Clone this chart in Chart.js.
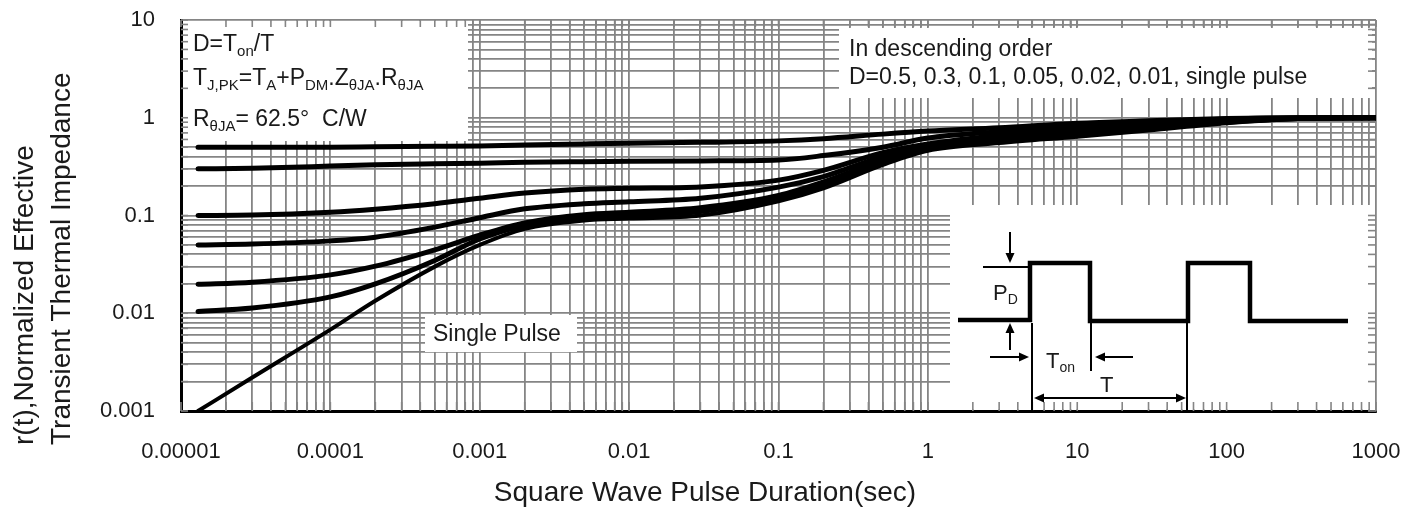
<!DOCTYPE html>
<html>
<head>
<meta charset="utf-8">
<script src="https://cdn.jsdelivr.net/npm/chart.js@4.4.1/dist/chart.umd.min.js"></script>
<style>
  html, body { margin: 0; padding: 0; background: #fff; }
  #wrap { width: 1423px; height: 514px; position: relative; }
</style>
</head>
<body>
<div id="wrap"><canvas id="graph1"></canvas></div>
<script>
// pulse duration (sec) where the curves were read
var durations = [1.3e-5, 3e-5, 1e-4, 2e-4, 5e-4, 1e-3, 2e-3, 5e-3, 1e-2, 3e-2, 0.1, 0.2, 0.5, 1, 3, 10, 30, 100, 300, 1000];

var dutyLabels = ['D=0.5', 'D=0.3', 'D=0.1', 'D=0.05', 'D=0.02', 'D=0.01', 'Single Pulse'];

var zD05 = [0.5, 0.5, 0.5, 0.505, 0.51, 0.515, 0.525, 0.54, 0.55, 0.56, 0.58, 0.61, 0.68, 0.73, 0.79, 0.88, 0.93, 0.98, 1.0, 1.0];
var zD03 = [0.3, 0.305, 0.32, 0.33, 0.338, 0.343, 0.35, 0.355, 0.358, 0.362, 0.37, 0.41, 0.5, 0.62, 0.72, 0.83, 0.9, 0.97, 1.0, 1.0];
var zD01 = [0.1, 0.101, 0.108, 0.116, 0.132, 0.15, 0.17, 0.186, 0.19, 0.196, 0.23, 0.29, 0.44, 0.54, 0.66, 0.76, 0.86, 0.95, 0.99, 1.0];
var zD005 = [0.05, 0.051, 0.055, 0.06, 0.076, 0.095, 0.117, 0.132, 0.138, 0.15, 0.195, 0.25, 0.4, 0.5, 0.62, 0.72, 0.82, 0.93, 0.99, 1.0];
var zD002 = [0.0198, 0.0208, 0.0247, 0.0303, 0.0446, 0.063, 0.084, 0.102, 0.108, 0.12, 0.16, 0.22, 0.37, 0.52, 0.59, 0.69, 0.79, 0.91, 0.98, 1.0];
var zD001 = [0.0104, 0.0113, 0.0147, 0.02, 0.0347, 0.0575, 0.079, 0.095, 0.1, 0.11, 0.15, 0.205, 0.35, 0.49, 0.57, 0.66, 0.77, 0.9, 0.98, 1.0];
var zSingle = [0.001, 0.0022, 0.0068, 0.0134, 0.03, 0.05, 0.073, 0.089, 0.093, 0.1, 0.14, 0.19, 0.33, 0.46, 0.55, 0.64, 0.74, 0.88, 0.97, 1.0];

var xTickLabels = ['0.00001', '0.0001', '0.001', '0.01', '0.1', '1', '10', '100', '1000'];
var yTickLabels = ['0.001', '0.01', '0.1', '1', '10'];

var xTitle = 'Square Wave Pulse Duration(sec)';
var yTitle = ['r(t),Normalized Effective', 'Transient Thermal Impedance'];

var FONT = '"Liberation Sans", Arial, sans-serif';
var GRID = '#858585';

var xMinExp = Math.round(Math.log10(parseFloat(xTickLabels[0])));
var xMaxExp = Math.round(Math.log10(parseFloat(xTickLabels[xTickLabels.length - 1])));
var yMinExp = Math.round(Math.log10(parseFloat(yTickLabels[0])));
var yMaxExp = Math.round(Math.log10(parseFloat(yTickLabels[yTickLabels.length - 1])));

function logTicks(minExp, maxExp) {
  var t = [];
  for (var e = minExp; e < maxExp; e++) {
    for (var m = 1; m < 10; m++) {
      t.push({ value: Number((m * Math.pow(10, e)).toPrecision(6)) });
    }
  }
  t.push({ value: Math.pow(10, maxExp) });
  return t;
}

function decadeLabel(labels, minExp) {
  return function (value) {
    var e = Math.log10(value);
    var r = Math.round(e);
    if (Math.abs(e - r) < 1e-6) return labels[r - minExp];
    return '';
  };
}

var series = [zD05, zD03, zD01, zD005, zD002, zD001, zSingle];
var datasets = series.map(function (vals, k) {
  return {
    label: dutyLabels[k],
    data: vals.map(function (v, i) { return { x: durations[i], y: v }; }),
    borderColor: '#000',
    borderWidth: k == 6 ? 4 : 5,
    borderCapStyle: 'round',
    pointRadius: 0,
    fill: false,
    cubicInterpolationMode: 'monotone'
  };
});

function richText(ctx, x, y, parts, size, subSize) {
  ctx.textAlign = 'left';
  ctx.textBaseline = 'middle';
  for (var i = 0; i < parts.length; i++) {
    var sub = parts[i][1];
    ctx.font = (sub ? subSize : size) + 'px ' + FONT;
    ctx.fillText(parts[i][0], x, sub ? y + size * 0.28 : y);
    x += ctx.measureText(parts[i][0]).width;
  }
}

function arrow(ctx, x1, y1, x2, y2) {
  var a = Math.atan2(y2 - y1, x2 - x1), h = 10, w = 4.5;
  ctx.beginPath();
  ctx.moveTo(x1, y1);
  ctx.lineTo(x2 - Math.cos(a) * h, y2 - Math.sin(a) * h);
  ctx.stroke();
  ctx.beginPath();
  ctx.moveTo(x2, y2);
  ctx.lineTo(x2 - Math.cos(a) * h - Math.sin(a) * w, y2 - Math.sin(a) * h + Math.cos(a) * w);
  ctx.lineTo(x2 - Math.cos(a) * h + Math.sin(a) * w, y2 - Math.sin(a) * h - Math.cos(a) * w);
  ctx.closePath();
  ctx.fill();
}

function line(ctx, x1, y1, x2, y2) {
  ctx.beginPath();
  ctx.moveTo(x1, y1);
  ctx.lineTo(x2, y2);
  ctx.stroke();
}

var decor = {
  id: 'decor',
  beforeDatasetsDraw: function (chart) {
    var ctx = chart.ctx, a = chart.chartArea;
    var sx = chart.scales.x, sy = chart.scales.y;
    ctx.save();
    ctx.fillStyle = '#fff';
    ctx.fillRect(a.left + 2, a.top + 1, 468 - a.left - 2, 141 - a.top - 1);
    ctx.fillRect(839, 28, 1372 - 839, 98 - 28);
    ctx.fillRect(425, 315, 577 - 425, 352 - 315);
    ctx.fillRect(950, 205, a.right - 1 - 950, a.bottom - 1.5 - 205);
    // short inward ticks on the frame
    ctx.strokeStyle = GRID;
    ctx.lineWidth = 1.6;
    sx.ticks.forEach(function (t) {
      var px = sx.getPixelForValue(t.value);
      line(ctx, px, a.bottom, px, a.bottom - 9);
      line(ctx, px, a.top, px, a.top + 7);
    });
    sy.ticks.forEach(function (t) {
      var py = sy.getPixelForValue(t.value);
      line(ctx, a.left, py, a.left + 7, py);
      line(ctx, a.right, py, a.right - 8, py);
    });
    ctx.restore();
  },
  afterDraw: function (chart) {
    var ctx = chart.ctx;
    ctx.save();
    ctx.fillStyle = '#1a1a1a';

    // formula box
    richText(ctx, 193, 45, [['D=T', 0], ['on', 1], ['/T', 0]], 23, 15);
    richText(ctx, 193, 79, [['T', 0], ['J,PK', 1], ['=T', 0], ['A', 1], ['+P', 0], ['DM', 1], ['.Z', 0], ['\u03b8JA', 1], ['.R', 0], ['\u03b8JA', 1]], 23, 15);
    richText(ctx, 193, 120, [['R', 0], ['\u03b8JA', 1], ['= 62.5\u00b0  C/W', 0]], 23, 15);

    // order note
    richText(ctx, 849, 50, [['In descending order', 0]], 23, 15);
    richText(ctx, 849, 78, [['D=0.5, 0.3, 0.1, 0.05, 0.02, 0.01, single pulse', 0]], 23, 15);

    richText(ctx, 433, 335, [['Single Pulse', 0]], 23, 15);

    // duty cycle sketch
    ctx.strokeStyle = '#000';
    ctx.fillStyle = '#000';
    ctx.lineWidth = 4.5;
    ctx.lineJoin = 'miter';
    ctx.beginPath();
    ctx.moveTo(958, 320);
    ctx.lineTo(1030, 320);
    ctx.lineTo(1030, 263);
    ctx.lineTo(1090, 263);
    ctx.lineTo(1090, 321);
    ctx.lineTo(1188, 321);
    ctx.lineTo(1188, 263);
    ctx.lineTo(1250, 263);
    ctx.lineTo(1250, 321);
    ctx.lineTo(1348, 321);
    ctx.stroke();

    ctx.lineWidth = 2;
    line(ctx, 983, 267, 1028, 267);
    arrow(ctx, 1010, 232, 1010, 263);
    arrow(ctx, 1010, 350, 1010, 323);
    arrow(ctx, 990, 357, 1029, 357);
    line(ctx, 1032, 323, 1032, 411);
    line(ctx, 1091, 323, 1091, 371);
    arrow(ctx, 1133, 357, 1095, 357);
    arrow(ctx, 1110, 398, 1034, 398);
    arrow(ctx, 1110, 398, 1186, 398);
    line(ctx, 1187, 323, 1187, 411);

    ctx.fillStyle = '#1a1a1a';
    richText(ctx, 993, 294, [['P', 0], ['D', 1]], 22, 14);
    richText(ctx, 1046, 362, [['T', 0], ['on', 1]], 22, 14);
    richText(ctx, 1100, 386, [['T', 0]], 22, 14);

    // axis titles
    ctx.font = '28px ' + FONT;
    ctx.textAlign = 'center';
    ctx.textBaseline = 'middle';
    ctx.fillText(xTitle, 705, 493);
    ctx.textAlign = 'left';
    [25, 62].forEach(function (tx, i) {
      ctx.save();
      ctx.translate(tx, 445);
      ctx.rotate(-Math.PI / 2);
      ctx.fillText(yTitle[i], 0, 0);
      ctx.restore();
    });
    ctx.restore();
  }
};

var ctx = document.getElementById('graph1').getContext('2d');

var graph1 = new Chart(ctx, {
  type: 'line',
  data: { datasets: datasets },
  plugins: [decor],
  options: {
    responsive: true,
    maintainAspectRatio: false,
    animation: false,
    layout: { padding: { left: 0, right: 47, top: 20, bottom: 0 } },
    plugins: {
      legend: { display: false },
      tooltip: { enabled: false }
    },
    scales: {
      x: {
        type: 'logarithmic',
        min: Math.pow(10, xMinExp),
        max: Math.pow(10, xMaxExp),
        afterBuildTicks: function (s) { s.ticks = logTicks(xMinExp, xMaxExp); },
        afterFit: function (s) {
          s.height = 103;
          s.paddingLeft = 0;
          s.paddingRight = 0;
        },
        ticks: {
          autoSkip: false,
          maxRotation: 0,
          padding: 28,
          color: '#1a1a1a',
          font: { family: FONT, size: 22 },
          callback: decadeLabel(xTickLabels, xMinExp)
        },
        grid: { color: GRID, lineWidth: 1.8, drawTicks: false },
        border: { color: '#000', width: 3 }
      },
      y: {
        type: 'logarithmic',
        min: Math.pow(10, yMinExp),
        max: Math.pow(10, yMaxExp),
        afterBuildTicks: function (s) { s.ticks = logTicks(yMinExp, yMaxExp); },
        afterFit: function (s) {
          s.width = 181;
          s.paddingTop = 0;
          s.paddingBottom = 0;
        },
        ticks: {
          autoSkip: false,
          padding: 26,
          color: '#1a1a1a',
          font: { family: FONT, size: 22 },
          callback: decadeLabel(yTickLabels, yMinExp)
        },
        grid: { color: GRID, lineWidth: 1.8, drawTicks: false },
        border: { color: '#000', width: 3 }
      }
    }
  }
});
</script>
</body>
</html>
